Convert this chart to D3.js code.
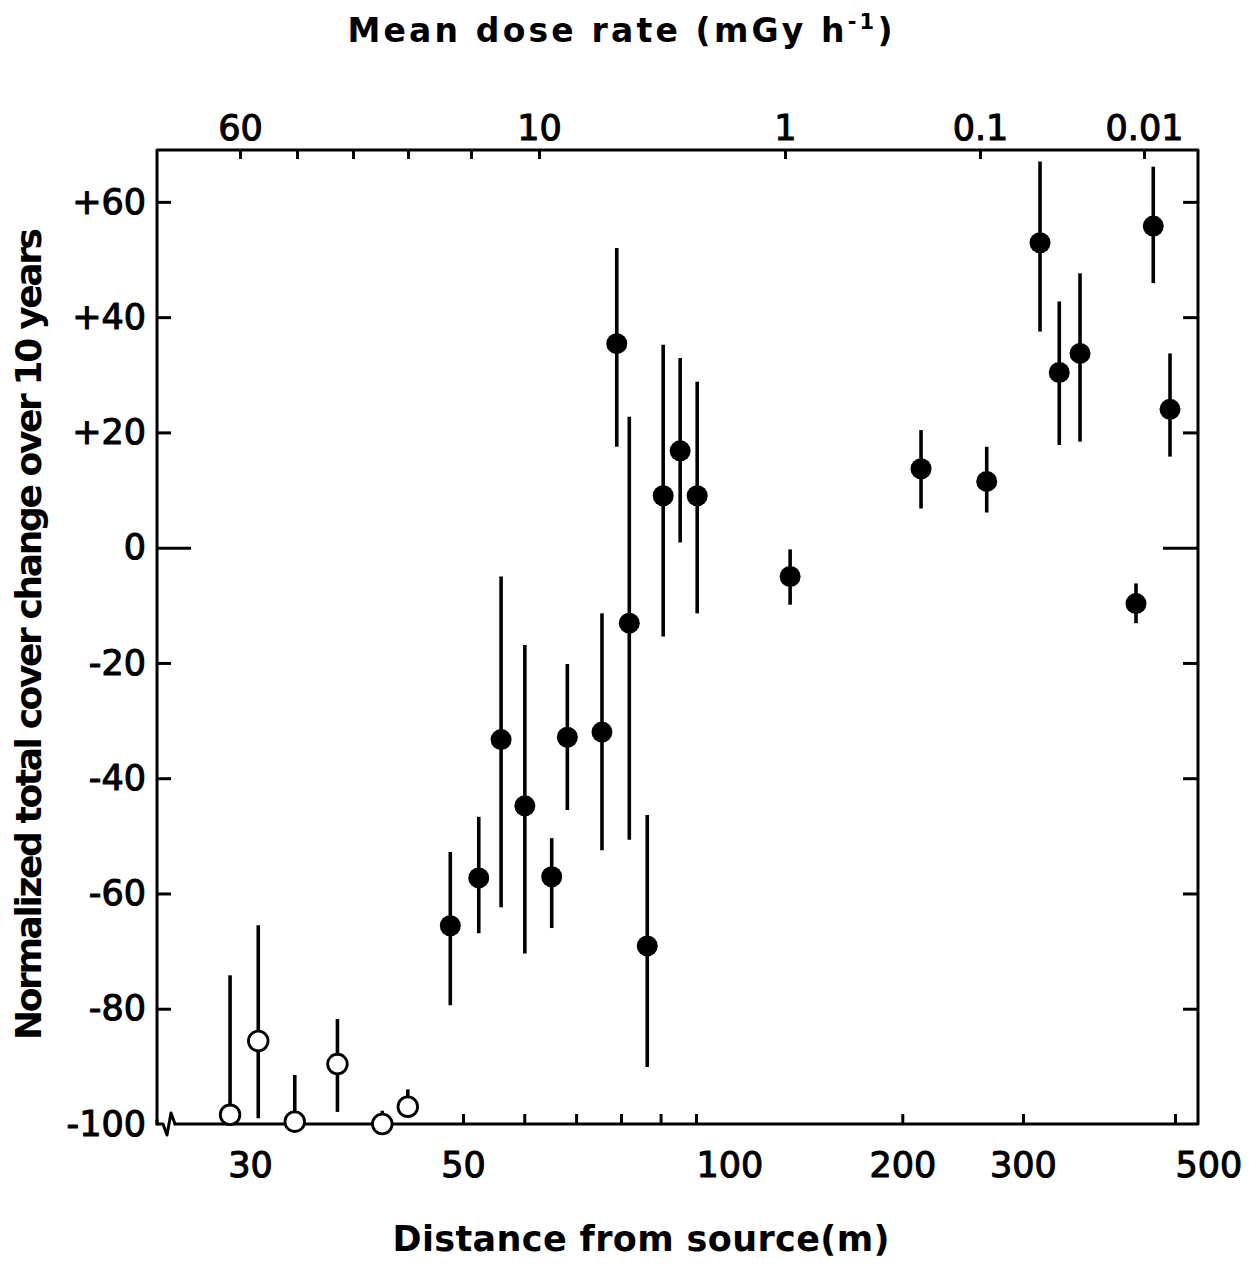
<!DOCTYPE html>
<html><head><meta charset="utf-8">
<script src="https://cdn.jsdelivr.net/npm/d3@7"></script>
<style>
html,body{margin:0;padding:0;background:#fff;}
svg{display:block;background:#fff;}
text{font-family:"DejaVu Sans",sans-serif;fill:#000;}
</style></head><body>
<svg id="chart" width="1249" height="1268"></svg>
<script>
// ---- data ----
// open circles: plots with no cover left
const openDistance = [28.6, 30.6, 33.4, 37.0, 41.2, 43.8];
const openChange   = [-98.4, -85.6, -99.6, -89.6, -100.0, -97.0];
const openHigh     = [-74.2, -65.5, -91.5, -81.8, -97.7, -94.0];
const openLow      = [-98.4, -99.0, -99.6, -97.9, -100.0, -97.0];
// filled circles
const distance   = [48.5, 52.4, 56.0, 60.1, 65.1, 68.2, 75.6, 79.0, 82.0, 86.5, 90.7, 95.4, 100.4, 137.2, 213.0, 265.6, 317.7, 338.9, 363.4, 438.6, 464.8, 491.7];
const change     = [-65.6, -57.3, -33.3, -44.8, -57.1, -32.9, -32.0, 35.4, -13.1, -69.1, 9.0, 16.8, 9.0, -5.0, 13.7, 11.5, 52.9, 30.4, 33.7, -9.7, 55.8, 24.0];
const changeHigh = [-52.8, -46.7, -5.0, -16.9, -50.4, -20.2, -11.4, 52.0, 22.7, -46.4, 35.2, 32.9, 28.8, -0.3, 20.4, 17.5, 67.0, 42.7, 47.6, -6.2, 66.1, 33.7];
const changeLow  = [-79.4, -66.9, -62.4, -70.4, -66.0, -45.5, -52.5, 17.5, -50.7, -90.1, -15.4, 0.9, -11.4, -9.9, 6.8, 6.1, 37.5, 17.8, 18.4, -13.1, 45.9, 15.8];
// axes
const distanceTicks = [30, 50, 100, 200, 300, 500];
const distanceMinorTicks = [50, 60, 70, 80, 90, 100, 200, 300, 500];
const doseTicks = [60, 10, 1, 0.1, 0.01];
const doseMinorTicks = [60, 40, 30, 20, 15, 10, 1, 0.1, 0.01];
const changeTicks = [60, 40, 20, 0, -20, -40, -60, -80, -100];
const xTitle = "Distance from source(m)";
const yTitle = "Normalized total cover change over 10 years";
const topTitle = "Mean dose rate (mGy h";
const topTitleSup = "-1";

// ---- layout ----
const L = 157, R = 1198, T = 150, B = 1124;
const svg = d3.select("#chart");

const x = d3.scaleLog().domain([30, 50, 100, 500]).range([250, 463, 696, 1175]);
const xTop = d3.scaleLog().domain([60, 40, 30, 20, 15, 10, 1, 0.1, 0.01])
  .range([240, 297, 353, 408, 471, 539, 785, 980, 1144]);
const y = d3.scaleLinear().domain([-100, 69]).range([B, T]);

const ink = "#000";
const fs = 35;
function styleLabels(sel) {
  sel.attr("font-size", fs).attr("font-family", "DejaVu Sans").attr("fill", ink)
    .attr("stroke", ink).attr("stroke-width", 1.1).attr("stroke-linejoin", "round");
}

// frame
const frame = svg.append("g").attr("fill", "none").attr("stroke", ink).attr("stroke-width", 3)
  .attr("stroke-linejoin", "round").attr("stroke-linecap", "round");
frame.append("path").attr("d", `M${L},${B} L${L},${T} L${R},${T} L${R},${B} L175,${B}`);
frame.append("path").attr("d", `M${L},${B-4} L${L},${B} L163,${B} L167,${B+11} L171,${B-11} L175,${B}`);

// left y axis: ticks inward + labels
const yTicksL = svg.append("g").attr("transform", `translate(${L},0)`)
  .call(d3.axisRight(y).tickValues(changeTicks.filter(d => d !== -100)).tickSize(14).tickFormat(""));
yTicksL.select(".domain").remove();
yTicksL.selectAll(".tick line").attr("stroke", ink).attr("stroke-width", 3)
  .attr("x2", d => d === 0 ? 34 : 14);

const yLabels = svg.append("g").attr("transform", `translate(${L},0)`)
  .call(d3.axisLeft(y).tickValues(changeTicks).tickSize(0).tickPadding(11)
    .tickFormat(d => d > 0 ? "+" + d : String(d)));
yLabels.select(".domain").remove();
styleLabels(yLabels.selectAll("text"));

// right y axis ticks inward
const yTicksR = svg.append("g").attr("transform", `translate(${R},0)`)
  .call(d3.axisLeft(y).tickValues(changeTicks.filter(d => d !== -100)).tickSize(15).tickFormat(""));
yTicksR.select(".domain").remove();
yTicksR.selectAll(".tick line").attr("stroke", ink).attr("stroke-width", 3)
  .attr("x2", d => d === 0 ? -35 : -15);

// bottom axis
const xMinor = svg.append("g").attr("transform", `translate(0,${B})`)
  .call(d3.axisTop(x).tickValues(distanceMinorTicks).tickSize(10).tickFormat(""));
xMinor.select(".domain").remove();
xMinor.selectAll(".tick line").attr("stroke", ink).attr("stroke-width", 3);

const startAnchored = [100, 500];
const xLabels = svg.append("g").attr("transform", `translate(0,${B})`)
  .call(d3.axisBottom(x).tickValues(distanceTicks).tickSize(0).tickPadding(28).tickFormat(d => String(d)));
xLabels.select(".domain").remove();
styleLabels(xLabels.selectAll("text"));
xLabels.selectAll("text").attr("text-anchor", d => startAnchored.includes(d) ? "start" : "middle");

// top axis (dose rate)
const topMinor = svg.append("g").attr("transform", `translate(0,${T})`)
  .call(d3.axisBottom(xTop).tickValues(doseMinorTicks).tickSize(9).tickFormat(""));
topMinor.select(".domain").remove();
topMinor.selectAll(".tick line").attr("stroke", ink).attr("stroke-width", 3);

const topLabels = svg.append("g").attr("transform", `translate(0,${T})`)
  .call(d3.axisTop(xTop).tickValues(doseTicks).tickSize(0).tickPadding(10).tickFormat(d => String(d)));
topLabels.select(".domain").remove();
styleLabels(topLabels.selectAll("text"));

// titles
const tt = svg.append("text").attr("x", 620).attr("y", 42).attr("text-anchor", "middle")
  .attr("font-size", 33).attr("font-weight", "bold")
  .attr("textLength", 545).attr("lengthAdjust", "spacing");
tt.append("tspan").text(topTitle);
tt.append("tspan").attr("font-size", 21).attr("dy", -13).text(topTitleSup);
tt.append("tspan").attr("dy", 13).text(")");

svg.append("text").attr("x", 641).attr("y", 1251).attr("text-anchor", "middle")
  .attr("font-size", 35).attr("font-weight", "bold")
  .attr("textLength", 497).attr("lengthAdjust", "spacing").text(xTitle);

svg.append("text").attr("transform", "translate(41,634) rotate(-90)").attr("text-anchor", "middle")
  .attr("font-size", 36).attr("font-weight", "bold")
  .attr("textLength", 812).attr("lengthAdjust", "spacing").text(yTitle);

// ---- marks ----
const filled = distance.map((d, i) => ({d, v: change[i], hi: changeHigh[i], lo: changeLow[i]}));
const open = openDistance.map((d, i) => ({d, v: openChange[i], hi: openHigh[i], lo: openLow[i]}));

const marks = svg.append("g");
marks.selectAll("line.ebar").data(filled.concat(open)).join("line").attr("class", "ebar")
  .attr("x1", p => x(p.d)).attr("x2", p => x(p.d))
  .attr("y1", p => y(p.hi)).attr("y2", p => y(p.lo))
  .attr("stroke", ink).attr("stroke-width", 3.6);

marks.selectAll("circle.filled").data(filled).join("circle").attr("class", "filled")
  .attr("cx", p => x(p.d)).attr("cy", p => y(p.v)).attr("r", 10.5).attr("fill", ink);

marks.selectAll("circle.open").data(open).join("circle").attr("class", "open")
  .attr("cx", p => x(p.d)).attr("cy", p => y(p.v)).attr("r", 9.8)
  .attr("fill", "#fff").attr("stroke", ink).attr("stroke-width", 2.8);
</script>
</body></html>
